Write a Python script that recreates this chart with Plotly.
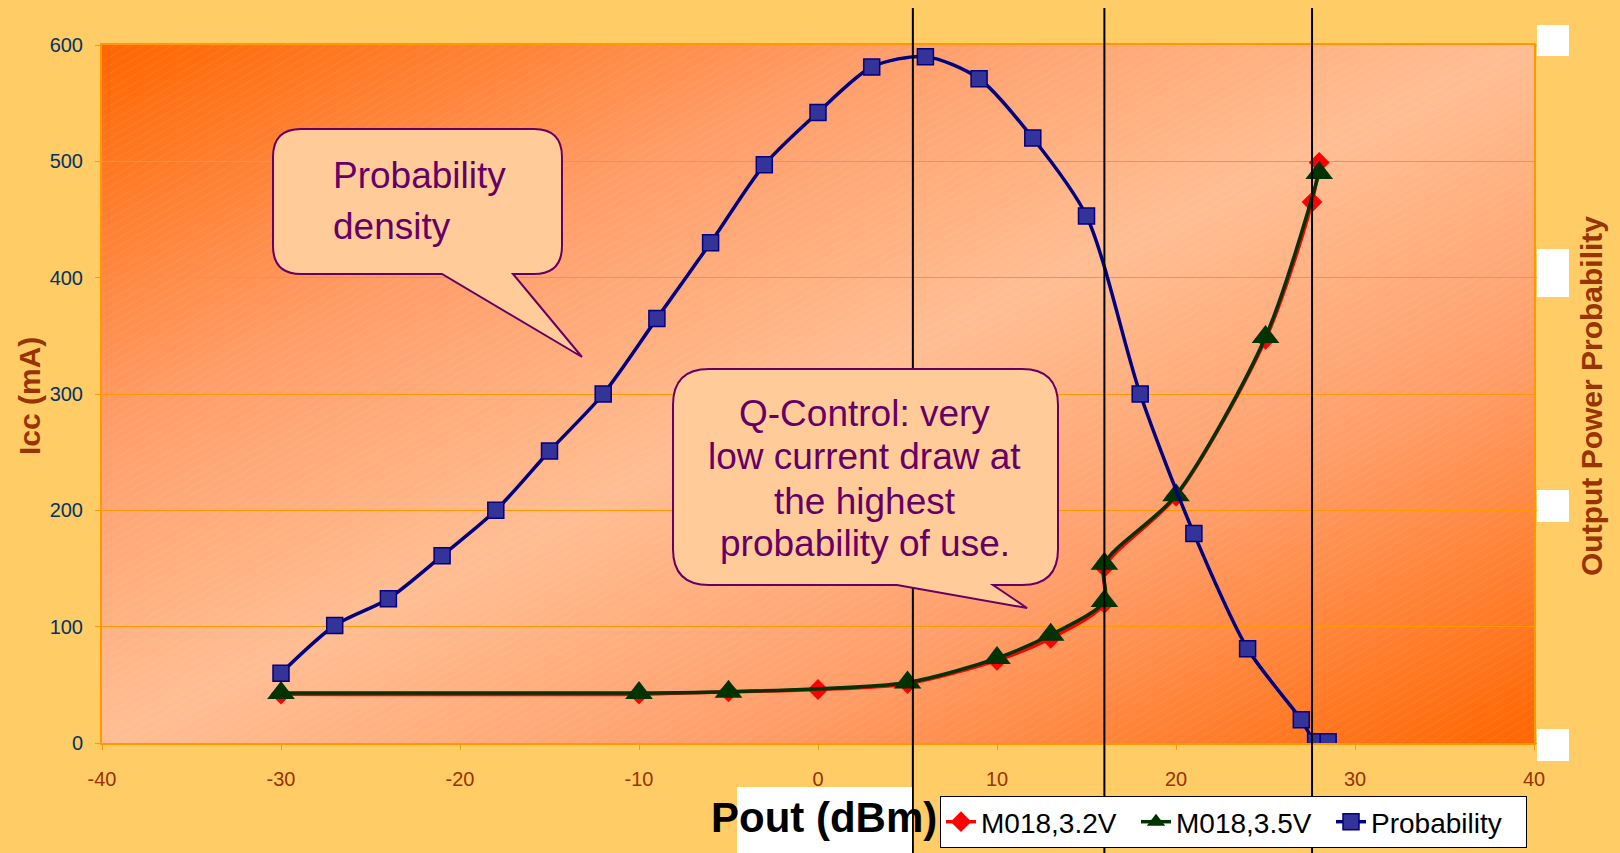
import base64

import plotly.graph_objects as go

# ---- data ----
pout_32v = [-30, -10, -5, 0, 5, 10, 13, 16, 16, 20, 25, 27.6, 28]
icc_32v = [42, 42, 44, 46, 51, 71, 90, 120, 151, 212, 347, 465, 499]

pout_35v = [-30, -10, -5, 5, 10, 13, 16, 16, 20, 25, 28]
icc_35v = [43, 43, 44, 52, 73, 93, 122, 154, 213, 349, 490]

pout_prob = [-30, -27, -24, -21, -18, -15, -12, -9, -6, -3, 0, 3, 6, 9, 12, 15,
             18, 21, 24, 27, 27.8, 28.5]
prob = [0.60, 1.01, 1.24, 1.61, 2.00, 2.51, 3.00, 3.65, 4.30, 4.97, 5.42, 5.81,
        5.90, 5.71, 5.20, 4.53, 3.00, 1.80, 0.81, 0.20, 0.01, 0.01]

marker_lines = [5.3, 16, 27.6]

x_ticks = [-40, -30, -20, -10, 0, 10, 20, 30, 40]
x_tick_labels = [str(v) for v in x_ticks]

FONT = "Arial, Liberation Sans, sans-serif"
PURPLE = "#660066"
ORANGE = "#FF9900"
BROWN = "#993300"

# plot area in page pixels
PL, PR, PT, PB = 102, 1534, 45, 743


def fx(x):
    return (x - PL) / (PR - PL)


def fy(y):
    return (PB - y) / (PB - PT)


def callout_path(left, right, top, bottom, r, tail_l, tail_r, tip):
    pts = [
        ("M", (left + r, top)), ("L", (right - r, top)),
        ("Q", (right, top), (right, top + r)), ("L", (right, bottom - r)),
        ("Q", (right, bottom), (right - r, bottom)), ("L", (tail_r, bottom)),
        ("L", tip), ("L", (tail_l, bottom)), ("L", (left + r, bottom)),
        ("Q", (left, bottom), (left, bottom - r)), ("L", (left, top + r)),
        ("Q", (left, top), (left + r, top)),
    ]
    out = []
    for cmd, *coords in pts:
        out.append(cmd + " ".join(f"{fx(a):.5f},{fy(b):.5f}" for a, b in coords))
    return " ".join(out) + " Z"


# gradient background for the plot area
svg = (
    '<svg xmlns="http://www.w3.org/2000/svg" width="1432" height="698" '
    'viewBox="0 0 1432 698" preserveAspectRatio="none"><defs>'
    '<linearGradient id="g" x1="0" y1="0" x2="1" y2="1">'
    '<stop offset="0" stop-color="#FF6600"/>'
    '<stop offset="0.28" stop-color="#FF9E6A"/>'
    '<stop offset="0.5" stop-color="#FFBE92"/>'
    '<stop offset="0.72" stop-color="#FF9E6A"/>'
    '<stop offset="1" stop-color="#FF6600"/></linearGradient>'
    '<pattern id="p" width="7" height="7" patternUnits="userSpaceOnUse" '
    'patternTransform="rotate(-30)"><line x1="0" y1="0" x2="7" y2="0" '
    'stroke="#FFFFFF" stroke-opacity="0.12" stroke-width="1"/></pattern></defs>'
    '<rect width="100%" height="100%" fill="url(#g)"/>'
    '<rect width="100%" height="100%" fill="url(#p)"/></svg>'
)
bg_src = "data:image/svg+xml;base64," + base64.b64encode(svg.encode()).decode()

fig = go.Figure()
fig.add_trace(go.Scatter(
    x=pout_32v, y=icc_32v, name="M018,3.2V", mode="lines+markers",
    line=dict(color="#FF0000", width=3.5, shape="spline", smoothing=0.8),
    marker=dict(symbol="diamond", size=16, color="#FF0000"),
))
fig.add_trace(go.Scatter(
    x=pout_35v, y=icc_35v, name="M018,3.5V", mode="lines+markers",
    line=dict(color="#003300", width=3.5, shape="spline", smoothing=0.8),
    marker=dict(symbol="triangle-up", size=24, color="#003300"),
))
fig.add_trace(go.Scatter(
    x=pout_prob, y=prob, name="Probability", mode="lines+markers", yaxis="y2",
    line=dict(color="#000080", width=3.5, shape="spline", smoothing=0.8),
    marker=dict(symbol="square", size=16, color="#333399",
                line=dict(color="#000080", width=1.5)),
))

shapes = []
for xv in marker_lines:
    shapes.append(dict(type="line", xref="x", yref="paper", x0=xv, x1=xv,
                       y0=fy(860), y1=fy(8), line=dict(color="black", width=2),
                       layer="above"))

bubble = dict(type="path", xref="paper", yref="paper", fillcolor="#FFCC99",
              line=dict(color=PURPLE, width=2), layer="above")
shapes.append(dict(bubble, path=callout_path(273, 562, 129, 274, 28, 442, 513, (582, 357))))
shapes.append(dict(bubble, path=callout_path(673, 1058, 369, 585, 36, 897, 993, (1027, 608))))

# white patches over the right-hand tick labels and behind the x title
for top, bottom in [(25, 56), (249, 297), (490, 522), (729, 761)]:
    shapes.append(dict(type="rect", xref="paper", yref="paper", x0=fx(1537), x1=fx(1569),
                       y0=fy(bottom), y1=fy(top), fillcolor="white",
                       line=dict(width=0), layer="above"))
shapes.append(dict(type="rect", xref="paper", yref="paper", x0=fx(737), x1=fx(912),
                   y0=fy(860), y1=fy(787), fillcolor="white",
                   line=dict(width=0), layer="above"))

annotations = []
for text, x, y, anchor in [
    ("Probability", 331, 176, "left"),
    ("density", 331, 226, "left"),
    ("Q-Control: very", 865, 413, "center"),
    ("low current draw at", 865, 457, "center"),
    ("the highest", 865, 501, "center"),
    ("probability of use.", 865, 543, "center"),
]:
    annotations.append(dict(text=text, x=fx(x), y=fy(y), xref="paper", yref="paper",
                            xanchor=anchor, yanchor="middle", showarrow=False,
                            font=dict(family=FONT, size=37, color=PURPLE)))

annotations.append(dict(text="<b>Pout (dBm)</b>", x=fx(824), y=fy(818), xref="paper",
                        yref="paper", showarrow=False, xanchor="center", yanchor="middle",
                        font=dict(family=FONT, size=42, color="black")))
annotations.append(dict(text="<b>Icc (mA)</b>", x=fx(29), y=fy(396), xref="paper",
                        yref="paper", showarrow=False, textangle=-90,
                        xanchor="center", yanchor="middle",
                        font=dict(family=FONT, size=30, color=BROWN)))
annotations.append(dict(text="<b>Output Power Probability</b>", x=fx(1591), y=fy(396),
                        xref="paper", yref="paper", showarrow=False, textangle=-90,
                        xanchor="center", yanchor="middle",
                        font=dict(family=FONT, size=30, color=BROWN)))

fig.update_layout(
    width=1620, height=853,
    margin=dict(l=PL, r=1620 - PR, t=PT, b=853 - PB, autoexpand=False),
    paper_bgcolor="#FFCC66",
    plot_bgcolor="#FFB080",
    font=dict(family=FONT),
    images=[dict(source=bg_src, xref="paper", yref="paper", x=0, y=1, sizex=1, sizey=1,
                 xanchor="left", yanchor="top", sizing="stretch", layer="below")],
    xaxis=dict(range=[-40, 40], tickvals=x_ticks, ticktext=x_tick_labels,
               showgrid=False, zeroline=False,
               showline=True, linecolor=ORANGE, linewidth=2, mirror=True,
               ticks="outside", ticklen=5, tickcolor=ORANGE, ticklabelstandoff=12,
               tickfont=dict(size=20, color=BROWN)),
    yaxis=dict(range=[0, 600], dtick=100, gridcolor=ORANGE, gridwidth=1, zeroline=False,
               showline=True, linecolor=ORANGE, linewidth=2, mirror=True,
               ticks="outside", ticklen=5, tickcolor=ORANGE, ticklabelstandoff=8,
               tickfont=dict(size=20, color="#003366")),
    yaxis2=dict(range=[0, 6], dtick=2, overlaying="y", side="right", showgrid=False,
                zeroline=False, showline=True, linecolor=ORANGE, linewidth=2,
                ticks="outside", ticklen=3, tickcolor=ORANGE, showticklabels=False),
    legend=dict(orientation="h", x=fx(940), y=fy(796), xanchor="left", yanchor="top",
                bgcolor="white", bordercolor="black", borderwidth=1,
                entrywidth=150, entrywidthmode="pixels",
                font=dict(family=FONT, size=28, color="black")),
    shapes=shapes,
    annotations=annotations,
)

fig.write_html("out.html", config={"displayModeBar": False},
               post_script="document.body.style.margin='0';")
